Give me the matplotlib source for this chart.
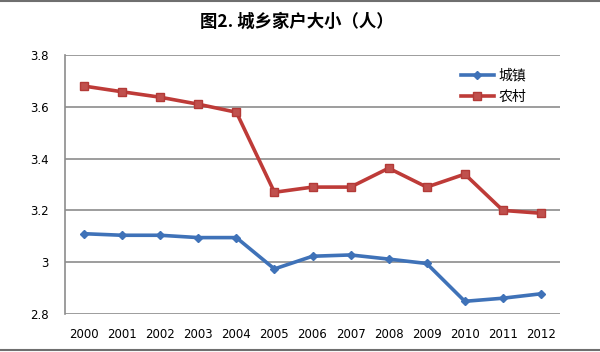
import matplotlib
matplotlib.use("Agg")
import matplotlib.pyplot as plt
from matplotlib.lines import Line2D

plt.rcParams['font.family'] = ['Noto Sans CJK SC', 'DejaVu Sans']

years = ['2000', '2001', '2002', '2003', '2004', '2005', '2006', '2007', '2008', '2009', '2010', '2011', '2012']
urban = [3.11, 3.104, 3.104, 3.095, 3.095, 2.974, 3.023, 3.028, 3.012, 2.995, 2.849, 2.861, 2.878]
rural = [3.68, 3.658, 3.637, 3.61, 3.579, 3.27, 3.29, 3.29, 3.363, 3.29, 3.34, 3.20, 3.189]
yticks = [2.8, 3.0, 3.2, 3.4, 3.6, 3.8]
ytick_labels = ['2.8', '3', '3.2', '3.4', '3.6', '3.8']
title = '图2. 城乡家户大小（人）'
labels = ['城镇', '农村']

fig = plt.figure(figsize=(6, 3.52), dpi=100)
ax = fig.add_axes([65/600, 38/352, 495/600, 259/352])

x = list(range(len(years)))
ax.plot(x, urban, color='#3F72B8', lw=2.6, marker='D', ms=4.5, mec='#3F72B8', mfc='#3F72B8', label=labels[0], zorder=3)
ax.plot(x, rural, color='#BE3B38', lw=2.6, marker='s', ms=6, mec='#B33A37', mfc='#C0504D', label=labels[1], zorder=3)

ax.set_xlim(-0.5, len(years) - 0.5)
ax.set_ylim(2.8, 3.8)
ax.set_yticks(yticks)
ax.set_yticklabels(ytick_labels, fontsize=8.5, family='DejaVu Sans')
ax.set_xticks(x)
ax.set_xticklabels(years, fontsize=8.5, family='DejaVu Sans')
ax.tick_params(axis='both', length=0, pad=10)
ax.tick_params(axis='y', pad=12)
ax.grid(axis='y', color='#8C8C8C', lw=1.2)
ax.set_axisbelow(True)
for s in ['top', 'right', 'bottom']:
    ax.spines[s].set_visible(False)
ax.spines['left'].set_color('#8C8C8C')
ax.spines['left'].set_linewidth(1.2)

fig.text(0.495, 1 - 22/352, title, ha='center', va='center', fontsize=12.5, fontweight='bold')

leg = ax.legend(loc='upper left', bbox_to_anchor=(390/495, 1 - 8/259), frameon=False,
                fontsize=10, handlelength=2.4, handletextpad=0.3, labelspacing=0.55, borderaxespad=0)

fig.lines.append(Line2D([0, 1], [1 - 1/352, 1 - 1/352], transform=fig.transFigure, color='#6F6F6F', lw=1.5))
fig.lines.append(Line2D([0, 1], [2/352, 2/352], transform=fig.transFigure, color='#6F6F6F', lw=1.5))
fig.savefig('out.png', dpi=100)
